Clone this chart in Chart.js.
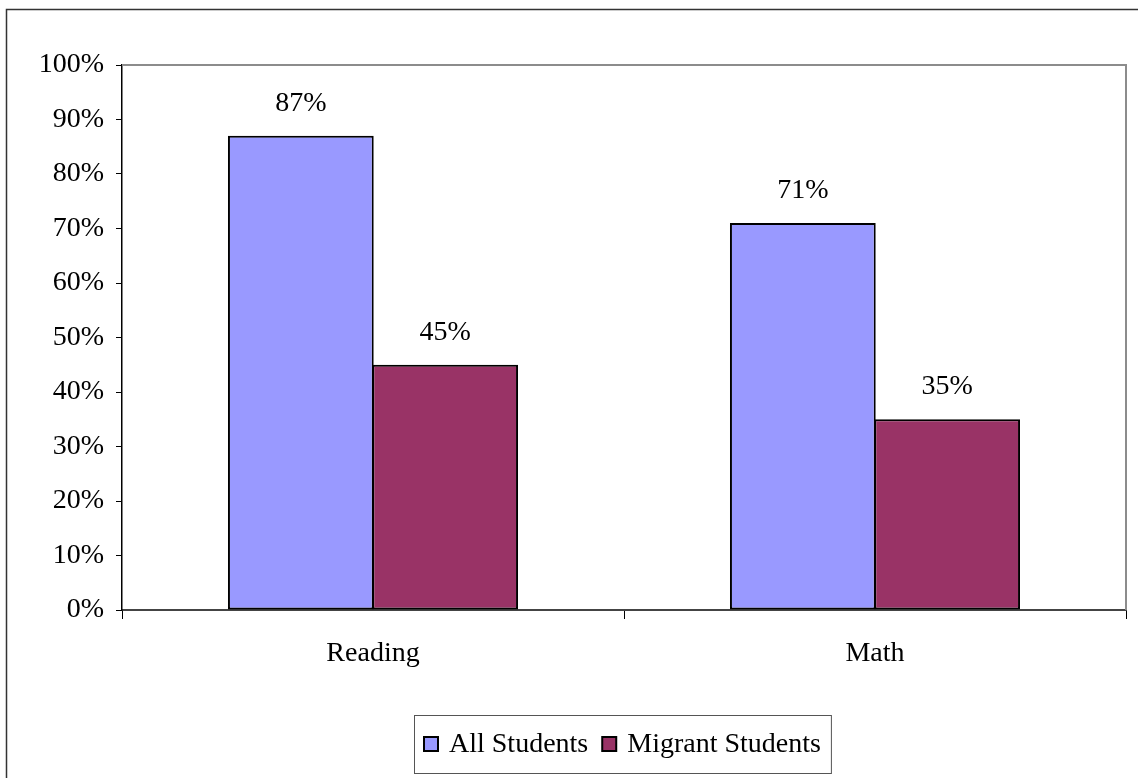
<!DOCTYPE html>
<html>
<head>
<meta charset="utf-8">
<script src="https://cdn.jsdelivr.net/npm/chart.js@4.4.1/dist/chart.umd.min.js"></script>
<style>
  html, body { margin: 0; padding: 0; background: #fff; }
  #box { width: 1138px; height: 778px; }
</style>
</head>
<body>
<div id="box"><canvas id="grafico"></canvas></div>
<script>
const categorias = ['Reading', 'Math'];
const series = ['All Students', 'Migrant Students'];
const todosAlunos = [87, 71];
const migrantes = [45, 35];
const cores = ['#9999FF', '#993366'];
const ticksY = [0, 10, 20, 30, 40, 50, 60, 70, 80, 90, 100];

const fonte = '"Liberation Serif", "Times New Roman", serif';
const tam = 28;

// moldura, rotulos das barras e legenda desenhados a mao
const extras = {
  id: 'extras',
  beforeDatasetsDraw(chart) {
    const { ctx, chartArea: a } = chart;
    ctx.save();
    ctx.strokeStyle = '#8c8c8c';
    ctx.lineWidth = 2;
    ctx.beginPath();
    ctx.moveTo(a.left, a.top);
    ctx.lineTo(a.right, a.top);
    ctx.lineTo(a.right, a.bottom);
    ctx.stroke();
    ctx.restore();
  },
  afterDraw(chart) {
    const { ctx } = chart;
    ctx.save();
    // borda externa
    ctx.strokeStyle = '#333';
    ctx.lineWidth = 1.5;
    ctx.strokeRect(6.5, 9.5, 1140, 780);

    // valores acima das barras
    ctx.fillStyle = '#000';
    ctx.font = tam + 'px ' + fonte;
    ctx.textAlign = 'center';
    ctx.textBaseline = 'alphabetic';
    chart.data.datasets.forEach((ds, i) => {
      chart.getDatasetMeta(i).data.forEach((bar, j) => {
        ctx.fillText(ds.data[j] + '%', bar.x, bar.y - 25);
      });
    });

    // legenda
    const caixa = 14, gap = 11, entre = 14;
    const larguras = chart.data.datasets.map(ds => ctx.measureText(ds.label).width);
    let total = 10;
    larguras.forEach((w, i) => { total += caixa + gap + w + (i < larguras.length - 1 ? entre : 10); });
    const cx = 622;
    const lx = Math.round(cx - total / 2), ly = 715, lh = 58;
    ctx.fillStyle = '#fff';
    ctx.fillRect(lx, ly, total, lh);
    ctx.strokeStyle = '#555';
    ctx.lineWidth = 1;
    ctx.strokeRect(lx + 0.5, ly + 0.5, total, lh);
    let x = lx + 10;
    const my = ly + lh / 2;
    ctx.textAlign = 'left';
    ctx.textBaseline = 'middle';
    chart.data.datasets.forEach((ds, i) => {
      ctx.fillStyle = ds.backgroundColor;
      ctx.fillRect(x, my - caixa / 2, caixa, caixa);
      ctx.strokeStyle = '#000';
      ctx.lineWidth = 2;
      ctx.strokeRect(x, my - caixa / 2, caixa, caixa);
      x += caixa + gap;
      ctx.fillStyle = '#000';
      ctx.fillText(ds.label, x, my + 1);
      x += larguras[i] + entre;
    });
    ctx.restore();
  }
};

new Chart(document.getElementById('grafico'), {
  type: 'bar',
  data: {
    labels: categorias,
    datasets: [
      { label: series[0], data: todosAlunos, backgroundColor: cores[0] },
      { label: series[1], data: migrantes, backgroundColor: cores[1] }
    ].map(ds => Object.assign(ds, {
      borderColor: '#000',
      borderWidth: 2,
      borderSkipped: false,
      categoryPercentage: 0.575,
      barPercentage: 1.01
    }))
  },
  options: {
    responsive: true,
    maintainAspectRatio: false,
    animation: false,
    events: [],
    layout: { padding: { top: 65, right: 12, left: 0, bottom: 0 } },
    plugins: {
      legend: { display: false },
      tooltip: { enabled: false }
    },
    scales: {
      x: {
        afterFit(scale) { scale.height = 168; },
        grid: {
          offset: true,
          drawOnChartArea: false,
          drawTicks: true,
          tickLength: 9,
          color: '#000'
        },
        border: { color: '#444', width: 2 },
        ticks: {
          color: '#000',
          padding: 18,
          font: { family: fonte, size: tam }
        }
      },
      y: {
        min: 0,
        max: 100,
        afterFit(scale) { scale.width = 122; },
        afterBuildTicks(scale) { scale.ticks = ticksY.map(v => ({ value: v })); },
        grid: {
          drawOnChartArea: false,
          drawTicks: true,
          tickLength: 6,
          color: '#000'
        },
        border: { color: '#000', width: 1.5 },
        ticks: {
          color: '#000',
          padding: 12,
          font: { family: fonte, size: tam },
          callback: v => v + '%'
        }
      }
    }
  },
  plugins: [extras]
});
</script>
</body>
</html>
